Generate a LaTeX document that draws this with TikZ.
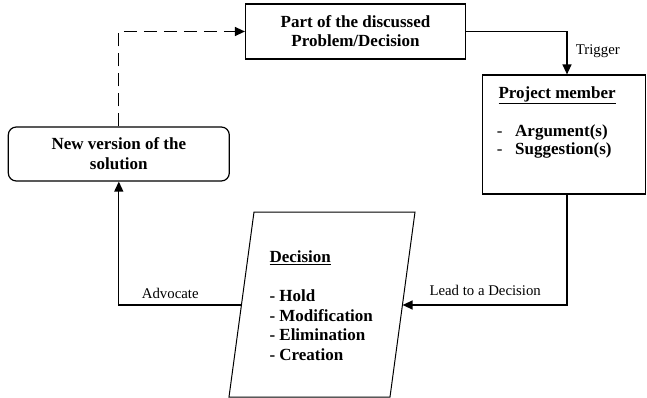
\documentclass[tikz,border=0pt]{standalone}
\usepackage{fontspec}
\setmainfont{Liberation Serif}
\usetikzlibrary{arrows.meta}
\begin{document}
\begin{tikzpicture}[x=1pt,y=-1pt,
  box/.style={draw, line width=1.2pt, inner sep=0pt},
  conn/.style={line width=1.3pt, -{Triangle[length=10pt,width=9pt]}},
  bt/.style={font=\bfseries\fontsize{17}{19.5}\selectfont, inner sep=0pt, anchor=base west},
  lbl/.style={font=\fontsize{14.8}{16}\selectfont, inner sep=0pt, anchor=base west}]
\useasboundingbox (0,0) rectangle (647,398);

\node[box, minimum width=220pt, minimum height=55pt, align=center,
      font=\bfseries\fontsize{17}{18.8}\selectfont] (prob) at (355.5,31.5) {Part of the discussed\\Problem/Decision};
\node[box, minimum width=163pt, minimum height=119pt] (pm) at (564,134.5) {};
\node[box, rounded corners=8pt, minimum width=221pt, minimum height=54pt, align=center,
      font=\bfseries\fontsize{17}{20}\selectfont] (nv) at (118.8,154) {New version of the\\solution};

\draw[line width=1pt] (254,212) -- (415,212) -- (390,397) -- (229,397) -- cycle;
\coordinate (decR) at (402.6,305);
\coordinate (decL) at (241.5,305);
\coordinate (tx) at (567,0);

\draw[conn] (prob.east) -| (pm.north -| tx);
\draw[conn] (pm.south -| tx) |- (decR);
\draw[conn] (decL) -| (nv.south);
\draw[conn, dash pattern=on 13pt off 7pt] (nv.north) |- (prob.west);

\node[lbl] (trig) at (575.7,55) {Trigger};
\node[lbl] (lead) at (429.3,295) {Lead to a Decision};
\node[lbl] (adv) at (141.7,298.3) {Advocate};

\node[bt] (pmt) at (498.3,98.3) {\underline{Project member}};
\node[bt] (arg) at (496.7,136.7) {\makebox[18.3pt][l]{\mdseries -}Argument(s)};
\node[bt] (sug) at (496.7,155) {\makebox[18.3pt][l]{\mdseries -}Suggestion(s)};

\node[bt] (dect) at (269.3,262.7) {\underline{Decision}};
\node[bt] (d1) at (269.3,301.7) {- Hold};
\node[bt] (d2) at (269.3,321.2) {- Modification};
\node[bt] (d3) at (269.3,340.7) {- Elimination};
\node[bt] (d4) at (269.3,360.2) {- Creation};
\end{tikzpicture}
\end{document}
